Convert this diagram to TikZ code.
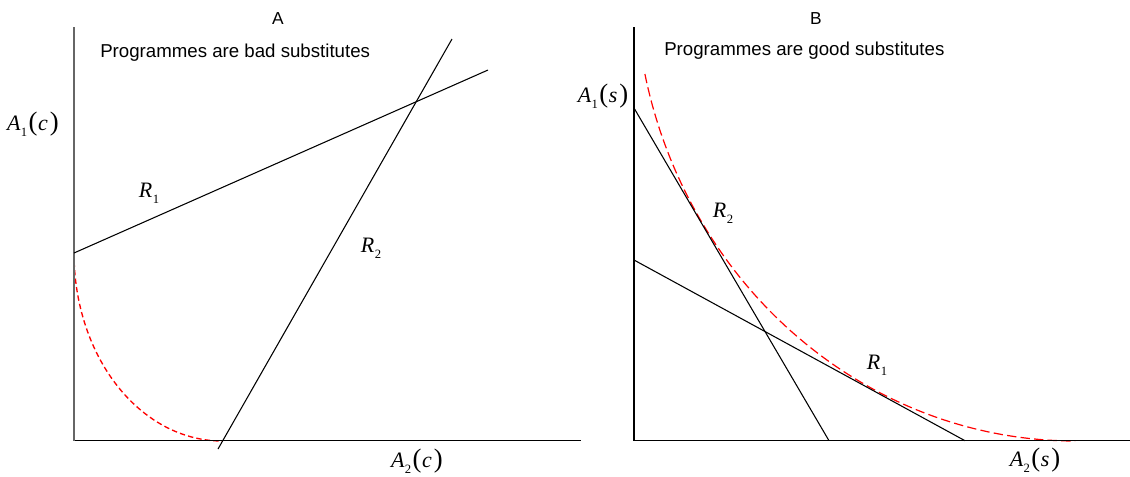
\documentclass[tikz,border=0pt]{standalone}
\usepackage{fontspec}
\setmainfont{Liberation Sans}
\newfontfamily\tms{Liberation Serif}
\newcommand{\VarLab}[2]{{\tms\itshape #1}\kern0.3pt\raisebox{-0.28em}{\tms\fontsize{9.5}{9.5}\selectfont #2}}
\newcommand{\FnLab}[3]{\VarLab{#1}{#2}\kern1pt{\tms\fontsize{20}{20}\selectfont(}\kern0.5pt{\tms\itshape #3}\kern1.5pt{\tms\fontsize{20}{20}\selectfont)}}
\tikzset{
  axisA/.style={draw=black!60, line width=1.5pt},
  axisAx/.style={draw=black, line width=1.1pt},
  axisB/.style={draw=black, line width=0.9pt},
  rline/.style={draw=black, line width=0.8pt},
  redA/.style={draw=red, line width=1pt, dash pattern=on 4pt off 2.4pt},
  redB/.style={draw=red, line width=0.9pt, dash pattern=on 7pt off 3.2pt},
  ttl/.style={font=\fontsize{13}{15}\selectfont, inner sep=0pt},
  captext/.style={font=\fontsize{14}{16}\selectfont, inner sep=0pt, anchor=west},
  mlab/.style={font=\fontsize{16.5}{18}\selectfont, inner sep=0pt}
}
\begin{document}
\begin{tikzpicture}[x=0.75pt,y=-0.75pt]
\useasboundingbox (0,0) rectangle (1130,476);
% ---------- Panel A ----------
\coordinate (OA) at (74,440.7);
\coordinate (ATop) at (74,27);
\coordinate (AEnd) at (581,440.7);
\coordinate (R1As) at (74,253);
\coordinate (R1Ae) at (488,70);
\coordinate (R2As) at (218,449);
\coordinate (R2Ae) at (452,39);
\draw[redA] plot[domain=0:90, samples=80, smooth] ({222-148*cos(\x)}, {253+188*sin(\x)});
\draw[axisAx] (OA) -- (AEnd);
\draw[axisA] (OA) -- (ATop);
\draw[rline] (R1As) -- (R1Ae);
\draw[rline] (R2As) -- (R2Ae);
\node[ttl] (tA) at (278,19) {A};
\node[captext] (capA) at (100,53) {Programmes are bad substitutes};
\node[mlab] (yA) at (33,124) {\FnLab{A}{1}{c}};
\node[mlab] (xA) at (417,461) {\FnLab{A}{2}{c}};
\node[mlab] (r1A) at (149,193) {\VarLab{R}{1}};
\node[mlab] (r2A) at (371,248) {\VarLab{R}{2}};
% ---------- Panel B ----------
\coordinate (OB) at (634,440.7);
\coordinate (BTop) at (634,27);
\coordinate (BEnd) at (1130,440.7);
\coordinate (R2Bs) at (634,108);
\coordinate (R2Be) at (829,440.7);
\coordinate (R1Bs) at (634,260);
\coordinate (R1Be) at (965,440.7);
\draw[redB] plot[domain=12.17:90, samples=100, smooth] ({1075-440*cos(\x)}, {-24+465*sin(\x)});
\draw[axisB] (OB) -- (BTop);
\draw[axisB] (OB) -- (BEnd);
\draw[rline] (R2Bs) -- (R2Be);
\draw[rline] (R1Bs) -- (R1Be);
\node[ttl] (tB) at (816,19) {B};
\node[captext] (capB) at (664,51) {Programmes are good substitutes};
\node[mlab] (yB) at (603,96) {\FnLab{A}{1}{s}};
\node[mlab] (xB) at (1035,460) {\FnLab{A}{2}{s}};
\node[mlab] (r2B) at (723,213) {\VarLab{R}{2}};
\node[mlab] (r1B) at (877,365) {\VarLab{R}{1}};
\end{tikzpicture}
\end{document}
